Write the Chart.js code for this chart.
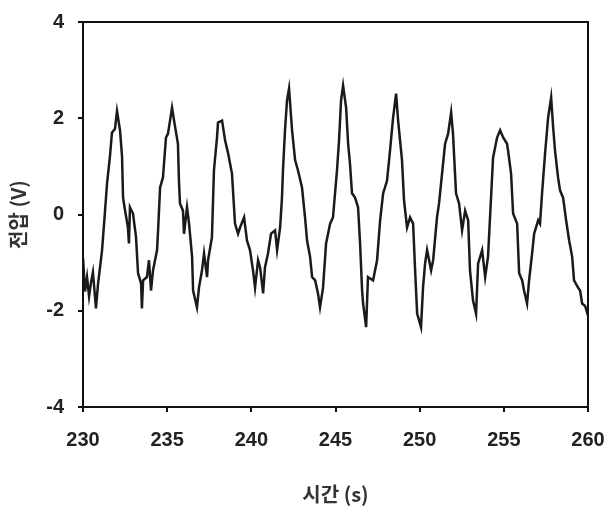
<!DOCTYPE html>
<html>
<head>
<meta charset="utf-8">
<script src="https://cdn.jsdelivr.net/npm/chart.js@4/dist/chart.umd.min.js"></script>
<style>
  html, body { margin: 0; padding: 0; background: #fff; overflow: hidden; }
  canvas { display: block; }
</style>
</head>
<body>
<canvas id="c" width="610" height="512" style="width:610px;height:512px"></canvas>
<script>
// Time (s)
const times = [
  230.00,230.12,230.24,230.36,230.48,230.59,230.77,230.89,231.13,231.31,231.43,231.60,231.72,231.90,232.02,232.20,232.32,232.38,232.50,232.67,
  232.73,232.79,232.97,233.15,233.27,233.45,233.50,233.57,233.80,233.92,234.04,234.16,234.40,234.46,234.58,234.75,234.93,235.05,235.29,235.41,
  235.64,235.70,235.76,235.94,236.00,236.18,236.30,236.48,236.54,236.77,236.89,237.07,237.19,237.37,237.43,237.66,237.78,237.96,238.02,238.26,
  238.44,238.62,238.85,239.03,239.21,239.33,239.57,239.74,239.92,240.10,240.22,240.40,240.52,240.70,240.81,240.99,241.17,241.41,241.53,241.71,
  241.82,241.88,242.00,242.12,242.24,242.42,242.60,242.77,243.01,243.19,243.31,243.49,243.61,243.79,243.96,244.08,244.26,244.44,244.68,244.85,
  245.09,245.21,245.33,245.45,245.63,245.75,245.86,245.98,246.16,246.34,246.46,246.58,246.64,246.82,246.93,247.23,247.47,247.65,247.83,248.06,
  248.24,248.42,248.60,248.72,248.95,249.07,249.25,249.43,249.61,249.73,249.85,250.08,250.20,250.32,250.44,250.68,250.80,251.03,251.15,251.33,
  251.51,251.69,251.87,251.98,252.16,252.34,252.52,252.70,252.88,252.99,253.17,253.35,253.47,253.71,253.89,254.06,254.24,254.36,254.60,254.78,
  254.96,255.19,255.25,255.43,255.55,255.79,255.91,256.09,256.20,256.38,256.50,256.68,256.80,257.04,257.15,257.27,257.45,257.63,257.81,257.93,
  258.04,258.22,258.34,258.52,258.70,258.88,259.06,259.17,259.41,259.53,259.65,259.83,260.00
];
// Voltage (V)
const voltages = [
  -0.90,-1.60,-1.30,-1.70,-1.40,-1.20,-1.95,-1.45,-0.75,0.08,0.65,1.20,1.70,1.78,2.15,1.75,1.20,0.35,0.08,-0.27,
  -0.60,0.15,0.02,-0.47,-1.22,-1.43,-1.95,-1.37,-1.30,-0.95,-1.58,-1.16,-0.74,-0.33,0.56,0.77,1.60,1.68,2.22,1.95,
  1.47,0.70,0.23,0.08,-0.40,0.15,-0.19,-0.88,-1.58,-1.93,-1.52,-1.16,-0.81,-1.30,-0.95,-0.47,0.92,1.60,1.91,1.95,
  1.54,1.27,0.85,-0.19,-0.40,-0.27,-0.06,-0.54,-0.74,-1.16,-1.52,-0.95,-1.10,-1.64,-1.10,-0.81,-0.40,-0.33,-0.74,-0.27,
  0.35,0.92,1.75,2.37,2.62,1.75,1.13,0.92,0.56,-0.06,-0.54,-0.88,-1.30,-1.37,-1.64,-1.93,-1.52,-0.60,-0.19,-0.06,
  0.92,1.54,2.37,2.68,2.22,1.47,1.06,0.44,0.35,0.15,-0.60,-1.58,-1.85,-2.34,-1.30,-1.37,-0.95,-0.12,0.44,0.70,
  1.33,2.01,2.51,1.95,1.13,0.30,-0.27,-0.06,-0.19,-1.16,-2.06,-2.34,-1.52,-1.02,-0.74,-1.16,-0.95,-0.06,0.23,0.85,
  1.47,1.68,2.12,1.68,0.44,0.23,-0.33,0.08,-0.12,-1.16,-1.79,-2.06,-1.02,-0.74,-1.30,-0.88,0.35,1.18,1.60,1.75,
  1.60,1.47,1.33,0.85,0.02,-0.19,-1.22,-1.37,-1.58,-1.85,-1.37,-0.81,-0.40,-0.12,-0.19,0.44,1.27,2.01,2.43,1.81,
  1.33,0.77,0.50,0.35,-0.12,-0.54,-0.88,-1.37,-1.52,-1.58,-1.85,-1.90,-2.10
];
const xTicks = [230, 235, 240, 245, 250, 255, 260];
const yTicks = [-4, -2, 0, 2, 4];
const xTitle = '시간 (s)';
const yTitle = '전압 (V)';

const points = times.map((t, i) => ({ x: t, y: voltages[i] }));

const framePlugin = {
  id: 'frame',
  afterDraw(chart) {
    const a = chart.chartArea, ctx = chart.ctx;
    ctx.save();
    ctx.strokeStyle = '#111';
    ctx.lineWidth = 2;
    ctx.strokeRect(a.left, a.top, a.right - a.left, a.bottom - a.top);
    ctx.restore();
  }
};

const tickFont = { family: '"Liberation Sans", Arial, sans-serif', size: 20, weight: 'bold' };
const titleFont = { family: '"Noto Sans CJK KR", "Liberation Sans", sans-serif', size: 20, weight: 'bold' };

new Chart(document.getElementById('c'), {
  type: 'scatter',
  data: {
    datasets: [{
      data: points,
      showLine: true,
      borderColor: '#1a1a1a',
      borderWidth: 2.5,
      pointRadius: 0,
      tension: 0,
      fill: false
    }]
  },
  options: {
    responsive: false,
    animation: false,
    layout: { padding: { top: 22, right: 22, left: 6, bottom: 6 } },
    plugins: { legend: { display: false }, tooltip: { enabled: false } },
    scales: {
      x: {
        type: 'linear',
        min: xTicks[0], max: xTicks[xTicks.length - 1],
        afterBuildTicks: s => { s.ticks = xTicks.map(v => ({ value: v })); },
        afterFit: s => { s.height = 99; s.paddingLeft = 0; s.paddingRight = 0; },
        grid: { drawOnChartArea: false, drawTicks: true, tickLength: 5, color: '#111', lineWidth: 2 },
        border: { display: true, color: '#111', width: 2 },
        ticks: { color: '#222', font: tickFont, padding: 16, maxRotation: 0 },
        title: { display: true, text: xTitle, color: '#333', font: titleFont, padding: { top: 16, bottom: 0 } }
      },
      y: {
        type: 'linear',
        min: yTicks[0], max: yTicks[yTicks.length - 1],
        afterBuildTicks: s => { s.ticks = yTicks.map(v => ({ value: v })); },
        afterFit: s => { s.width = 77; s.paddingTop = 0; s.paddingBottom = 0; },
        grid: { drawOnChartArea: false, drawTicks: true, tickLength: 5, color: '#111', lineWidth: 2 },
        border: { display: true, color: '#111', width: 2 },
        ticks: { color: '#222', font: tickFont, padding: 14 },
        title: { display: true, text: yTitle, color: '#333', font: titleFont, padding: { top: 0, bottom: 4 } }
      }
    }
  },
  plugins: [framePlugin]
});
</script>
</body>
</html>
